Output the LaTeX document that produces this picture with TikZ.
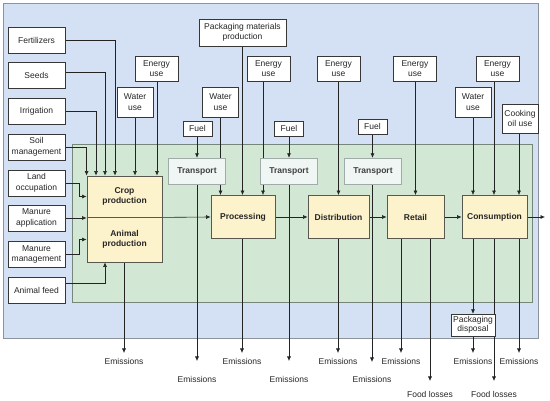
\documentclass[tikz,border=0pt]{standalone}
\usepackage{fontspec}
\setmainfont{Liberation Sans}
\usetikzlibrary{arrows.meta}

\definecolor{outerfill}{RGB}{212,225,245}
\definecolor{outerline}{RGB}{140,146,158}
\definecolor{innerfill}{RGB}{210,232,212}
\definecolor{innerline}{RGB}{118,134,122}
\definecolor{stagefill}{RGB}{252,242,204}
\definecolor{stageline}{RGB}{88,88,78}
\definecolor{transfill}{RGB}{240,246,243}
\definecolor{transline}{RGB}{160,170,168}
\definecolor{boxline}{RGB}{55,55,55}
\definecolor{wire}{RGB}{35,35,35}

\pgfdeclarelayer{bg}
\pgfdeclarelayer{wires}
\pgfsetlayers{bg,wires,main}

\begin{document}
\begin{tikzpicture}[
        x=1pt, y=-1pt,
        every node/.style={font=\fontsize{8.5}{10.5}\selectfont, align=center, inner sep=1pt, text=black!85},
        inbox/.style={draw=boxline, fill=white, minimum width=57pt, minimum height=26pt},
        usebox/.style={draw=boxline, fill=white, minimum width=43pt, minimum height=25pt},
        smallbox/.style={draw=boxline, fill=white, minimum width=29pt, minimum height=15pt},
        stage/.style={draw=stageline, fill=stagefill, line width=0.8pt, minimum height=43pt,
            font=\fontsize{8.5}{10.5}\selectfont\bfseries},
        transbox/.style={draw=transline, fill=transfill, minimum width=57pt, minimum height=26pt,
            text=black!75, font=\fontsize{8.5}{10.5}\selectfont\bfseries},
        outtext/.style={inner sep=1pt},
        link/.style={draw=wire, line width=0.6pt, -{Latex[length=4.5pt,width=4pt]}},
    ]

    \useasboundingbox (0,0) rectangle (550,401);

    % Define the two frames.
    \begin{pgfonlayer}{bg}
        \draw[outerline, fill=outerfill, line width=0.8pt] (3,3) rectangle (538,338);
        \draw[innerline, fill=innerfill, line width=0.8pt] (72,144) rectangle (532,302);
    \end{pgfonlayer}

    % Inputs on the left.
    \foreach \n/\y/\txt in {fert/40/Fertilizers, seeds/75.5/Seeds, irrig/111.5/Irrigation,
        soil/147/{Soil\\management}, land/183/{Land\\occupation},
        mapp/218/{Manure\\application}, mman/254.5/{Manure\\management}, feed/290/{Animal feed}}
    {
        \node[inbox] (\n) at (36.5,\y) {\txt};
    }

    % Production stages.
    \node[stage, minimum width=75pt, minimum height=41pt] (crop) at (124.5,196.5) {Crop\\production};
    \node[stage, minimum width=75pt, minimum height=45pt] (animal) at (124.5,239.5) {Animal\\production};
    \node[stage, minimum width=64pt] (proc) at (243,217) {Processing};
    \node[stage, minimum width=61pt] (dist) at (338.5,217) {Distribution};
    \node[stage, minimum width=57pt] (retail) at (415.5,217) {Retail};
    \node[stage, minimum width=65pt] (cons) at (494.5,217) {Consumption};

    % Transport and fuel.
    \foreach \n/\x in {trans1/197, trans2/289, trans3/373}
        \node[transbox] (\n) at (\x,171) {Transport};
    \node[smallbox] (fuel1) at (197.5,128.5) {Fuel};
    \node[smallbox] (fuel2) at (289,128.5) {Fuel};
    \node[smallbox] (fuel3) at (372.5,126.5) {Fuel};

    % Resource use.
    \node[usebox] (energy1) at (156.5,68.5) {Energy\\use};
    \node[usebox] (energy2) at (268.5,68.5) {Energy\\use};
    \node[usebox] (energy3) at (338.5,68.5) {Energy\\use};
    \node[usebox] (energy4) at (415,68.5) {Energy\\use};
    \node[usebox] (energy5) at (497.5,68.5) {Energy\\use};
    \node[usebox, minimum width=36pt, minimum height=30pt] (water1) at (135,102) {Water\\use};
    \node[usebox, minimum width=36pt, minimum height=30pt] (water2) at (220.5,102) {Water\\use};
    \node[usebox, minimum width=36pt, minimum height=30pt] (water3) at (473,102) {Water\\use};
    \node[usebox, minimum width=36pt, minimum height=29pt] (oil) at (520,118.5) {Cooking\\oil use};
    \node[usebox, minimum width=87pt, minimum height=27pt] (pack) at (242.5,32.5) {Packaging materials\\production};
    \node[usebox, minimum width=44pt, minimum height=22pt, font=\fontsize{8.5}{9.5}\selectfont] (pdisp) at (473,325) {Packaging\\disposal};

    \begin{pgfonlayer}{wires}
        % Inputs to crop and animal production.
        \draw[link] (fert.east) -| ([xshift=-9.5pt]crop.north);
        \draw[link] ([yshift=3.5pt]seeds.east) -| ([xshift=-19.5pt]crop.north);
        \draw[link] (irrig.east) -| ([xshift=-28.5pt]crop.north);
        \draw[link] (soil.east) -| (crop.north west);
        \draw[link] (land.east) -- ++(14,0) |- (crop.west);
        \draw[link] (mapp.east) -- (mapp.east -| crop.west);
        \draw[link] (mman.east) -- ++(14,0) |- (animal.west);
        \draw[link] ([yshift=7pt]feed.east) -| ([xshift=-19.5pt]animal.south);

        % Resource use from above.
        \foreach \src/\dst/\x in {water1/crop/135, energy1/crop/157, fuel1/trans1/197,
            water2/proc/220.5, pack/proc/242.5, energy2/proc/263, fuel2/trans2/289,
            energy3/dist/338.5, fuel3/trans3/372.5, energy4/retail/415.5,
            water3/cons/473, energy5/cons/494, oil/cons/519}
        {
            \coordinate (lx) at (\x,0);
            \draw[link] (\src.south -| lx) -- (\dst.north -| lx);
        }

        % Main chain.
        \coordinate (out) at (545,217);
        \draw[link] (crop.south east) -- (proc.west);
        \draw[link] (proc) -- (dist);
        \draw[link] (dist) -- (retail);
        \draw[link] (retail) -- (cons);
        \draw[link] (cons) -- (out);

        % Outputs.
        \draw[link] (pdisp.north |- cons.south) -- (pdisp.north);
        \foreach \src/\x/\tip/\ty/\txt/\n in {animal/124/353/361.5/Emissions/e1,
            trans1/197/361/379/Emissions/e2, proc/242/353/361.5/Emissions/e3,
            trans2/289/361/379/Emissions/e4, dist/338/353/361.5/Emissions/e5,
            trans3/372/362/379/Emissions/e6, retail/401/353/361.5/Emissions/e7,
            retail/430/381/394.5/{Food losses}/f1, pdisp/473/353/361.5/Emissions/e8,
            cons/494/381/394.5/{Food losses}/f2, cons/519/353/361.5/Emissions/e9}
        {
            \coordinate (tip\n) at (\x,\tip);
            \node[outtext] (out\n) at (\x,\ty) {\txt};
            \draw[link] (\src.south -| tip\n) -- (tip\n);
        }
    \end{pgfonlayer}
\end{tikzpicture}
\end{document}
